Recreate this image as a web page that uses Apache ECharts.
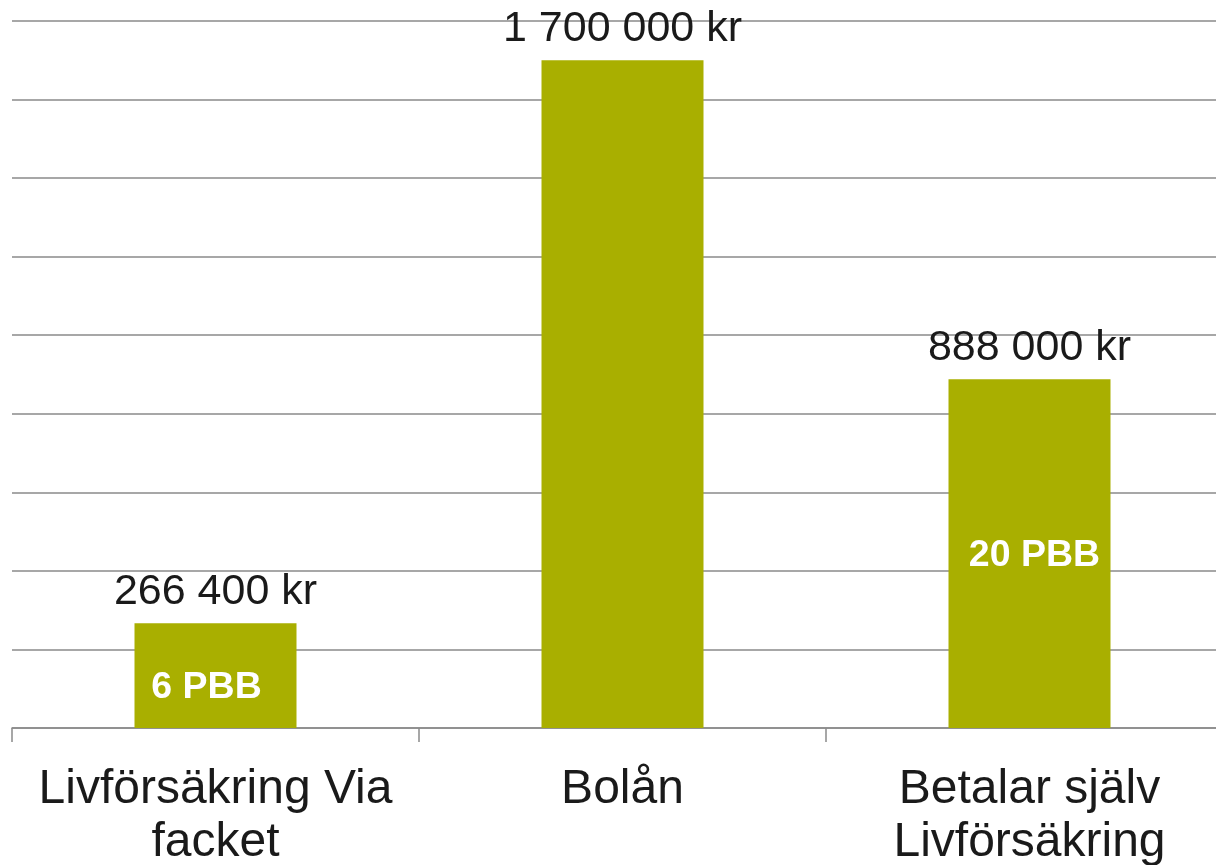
<!DOCTYPE html>
<html>
<head>
<meta charset="utf-8">
<script src="https://cdn.jsdelivr.net/npm/echarts@6/dist/echarts.min.js"></script>
<style>
  html, body { margin: 0; padding: 0; background: #fff; }
  #chart { width: 1216px; height: 865px; }
</style>
</head>
<body>
<div id="chart"></div>
<script>
// data
var categories = ['Livförsäkring Via\nfacket', 'Bolån', 'Betalar själv\nLivförsäkring'];
var amounts = [266400, 1700000, 888000];
var pbbLabels = ['6 PBB', '', '20 PBB'];
var yMin = 0, yMax = 1800000, yStep = 200000;

function kr(v) {
  return String(v).replace(/\B(?=(\d{3})+(?!\d))/g, ' ') + ' kr';
}

var chart = echarts.init(document.getElementById('chart'));

var pbbData = [];
for (var i = 0; i < amounts.length; i++) {
  pbbData.push({
    value: amounts[i],
    label: {
      show: pbbLabels[i] !== '',
      formatter: pbbLabels[i],
      offset: i === 0 ? [-9, 12] : [5, 2]
    }
  });
}

var option = {
  animation: false,
  grid: {
    left: 12,
    right: -17,
    top: 21,
    bottom: 137,
    containLabel: false,
    outerBoundsMode: 'none'
  },
  xAxis: {
    type: 'category',
    data: categories,
    axisLine: { lineStyle: { color: '#8a8a8a', width: 1.5 } },
    axisTick: { show: true, length: 14, alignWithLabel: false, lineStyle: { color: '#8a8a8a', width: 1.5 } },
    axisLabel: {
      color: '#1a1a1a',
      fontFamily: 'Liberation Sans, Arial, sans-serif',
      fontSize: 48,
      lineHeight: 53,
      margin: 35,
      interval: 0
    }
  },
  yAxis: {
    type: 'value',
    min: yMin,
    max: yMax,
    interval: yStep,
    axisLine: { show: false },
    axisTick: { show: false },
    axisLabel: { show: false },
    splitLine: { lineStyle: { color: '#8a8a8a', width: 1.5 } }
  },
  series: [{
    type: 'bar',
    data: amounts,
    barWidth: 162,
    itemStyle: { color: '#a9af00' },
    label: {
      show: true,
      position: 'top',
      distance: 10,
      color: '#1a1a1a',
      fontFamily: 'Liberation Sans, Arial, sans-serif',
      fontSize: 43,
      formatter: function (p) { return kr(p.value); }
    }
  }, {
    type: 'bar',
    data: pbbData,
    barWidth: 162,
    barGap: '-100%',
    itemStyle: { color: 'rgba(0,0,0,0)' },
    label: {
      position: 'inside',
      color: '#ffffff',
      fontWeight: 'bold',
      fontFamily: 'Liberation Sans, Arial, sans-serif',
      fontSize: 37.5
    }
  }]
};
chart.setOption(option);
</script>
</body>
</html>
